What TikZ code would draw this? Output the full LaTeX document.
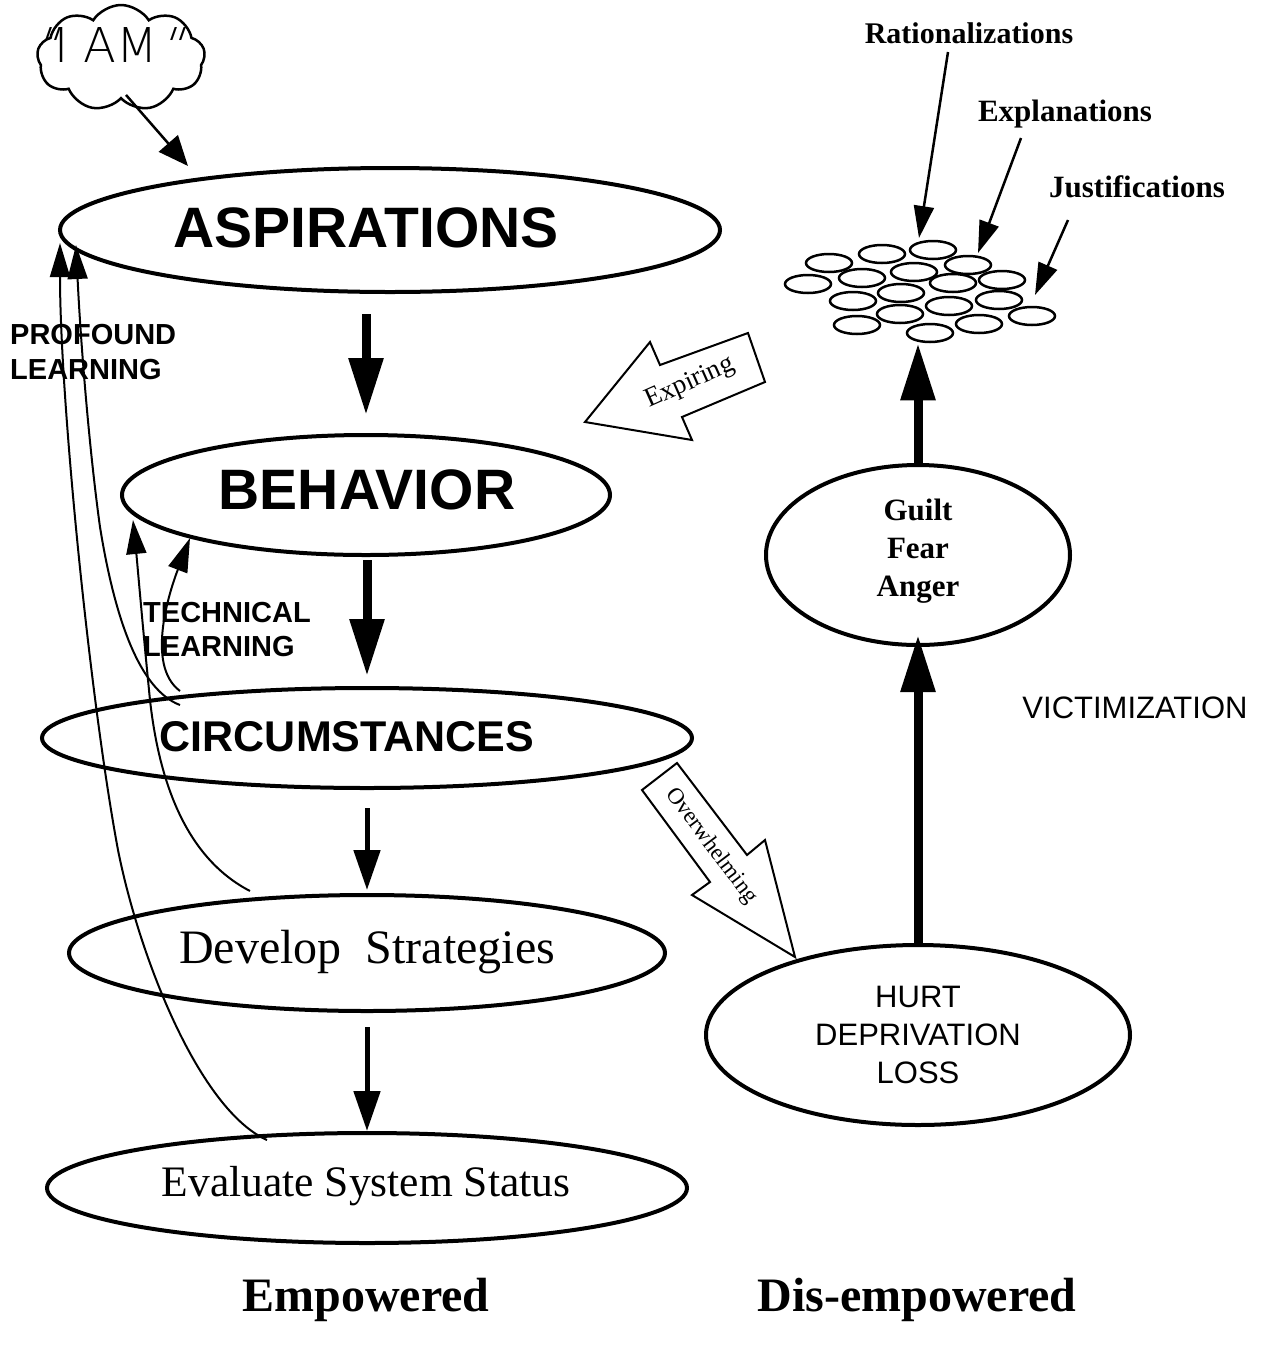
\documentclass[tikz,border=0pt]{standalone}
\usepackage{fontspec}
\setmainfont{Liberation Serif}
\setsansfont{Liberation Sans}
\newfontfamily\thinfont{DejaVu Sans ExtraLight}
\newfontfamily\thinslant[FakeSlant=0.35]{DejaVu Sans ExtraLight}
\usetikzlibrary{arrows.meta,shapes.geometric,shapes.symbols,calc}
\newcommand\fsz[2]{\fontsize{#1}{#2}\selectfont}

\begin{document}
\begin{tikzpicture}[x=1pt,y=-1pt,
  oval/.style={ellipse,draw,line width=4pt,inner sep=0pt},
  pill/.style={ellipse,draw,line width=2.5pt,minimum width=46pt,minimum height=18pt,inner sep=0pt},
  bigarrow/.style={line width=9pt,-{Triangle[length=57pt,width=33pt]}},
  midarrow/.style={line width=5pt,-{Triangle[length=40pt,width=26pt]}},
  looparrow/.style={line width=2pt,-{Triangle[length=34pt,width=20pt]}},
  thinarrow/.style={line width=2.5pt,-{Triangle[length=32pt,width=20pt]}},
  blockarrow/.style={draw,line width=2pt,fill=white,line join=miter},
  txt/.style={inner sep=0pt,align=center},
]
\useasboundingbox (0,0) rectangle (1266,1353);

% ---- empowered column: ellipses and their labels
\node[oval,minimum width=660pt,minimum height=124pt] (asp) at (390,230) {};
\node[txt,font=\sffamily\bfseries\fsz{57}{60}] (asptxt) at (366,228) {ASPIRATIONS};

\node[oval,minimum width=488pt,minimum height=120pt] (beh) at (366,495) {};
\node[txt,font=\sffamily\bfseries\fsz{57}{60}] (behtxt) at (367,490) {BEHAVIOR};

\node[oval,minimum width=650pt,minimum height=100pt] (circ) at (367,738) {};
\node[txt,font=\sffamily\bfseries\fsz{43}{46}] (circtxt) at (347,737) {CIRCUMSTANCES};

\node[oval,minimum width=596pt,minimum height=116pt] (dev) at (367,953) {};
\node[txt,font=\fsz{48}{50}] (devtxt) at (367,952) {Develop\ \ Strategies};

\node[oval,minimum width=640pt,minimum height=110pt] (eval) at (367,1188) {};
\node[txt,font=\fsz{43.5}{46}] (evaltxt) at (366,1186) {Evaluate System Status};

% ---- "I AM" cloud
\node[cloud,draw,line width=2.5pt,cloud puffs=9,cloud puff arc=115,aspect=1.5,
      minimum width=168pt,minimum height=106pt,inner sep=0pt] (cloud) at (121,58) {};
\node[txt,font=\thinfont\fsz{48}{50}] (iam) at (106,45) {{\thinslant"}I AM{\thinslant"}};
\draw[line width=2.5pt,-{Triangle[length=30pt,width=25pt]}]
  ($(cloud.south)+(5,-5)$) -- ($(asp.north)+(-202,0)$);

% ---- downward chain
\draw[bigarrow] ($(asp.south -| beh.north)+(0,20)$) -- ($(beh.north)+(0,-18)$);
\draw[bigarrow] ($(beh.south -| circ.north)+(0,3)$) -- ($(circ.north)+(0,-10)$);
\draw[midarrow] ($(circ.south)+(0,18)$) -- ($(dev.north)+(0,-3)$);
\draw[midarrow] ($(dev.south)+(0,14)$) -- (eval.north);

% ---- learning loops
\draw[looparrow] ($(eval.north)+(-100,9)$) .. controls (200,1110) and (140,960) .. (118,850)
  .. controls (90,700) and (60,400) .. ($(asp.west)+(2,13)$);
\draw[looparrow] ($(circ.north)+(-187,19)$) .. controls (140,690) and (115,620) .. (100,527)
  .. controls (88,440) and (80,330) .. ($(asp.west)+(18,15)$);
\draw[looparrow] ($(dev.north)+(-117,-2)$) .. controls (190,860) and (160,790) .. (150,700)
  .. controls (143,630) and (137,560) .. ($(beh.west)+(13,25)$);
\draw[looparrow] ($(circ.north)+(-187,5)$) .. controls (145,665) and (170,590) .. ($(beh.west)+(70,43)$);

\node[anchor=west,align=left,inner sep=0pt,font=\sffamily\bfseries\fsz{29}{35}] (prof) at (10,352) {PROFOUND\\LEARNING};
\node[anchor=west,align=left,inner sep=0pt,font=\sffamily\bfseries\fsz{29}{34}] (tech) at (143,630) {TECHNICAL\\LEARNING};

% ---- dis-empowered column
\node[oval,minimum width=304pt,minimum height=180pt] (guilt) at (918,555) {};
\node[txt,font=\bfseries\fsz{31}{38}] (guilttxt) at (918,551) {Guilt\\Fear\\Anger};

\node[oval,minimum width=424pt,minimum height=180pt] (hurt) at (918,1035) {};
\node[txt,font=\sffamily\fsz{31}{38}] (hurttxt) at (918,1035) {HURT\\DEPRIVATION\\LOSS};

\node[txt,font=\sffamily\fsz{31}{36}] (vict) at (1135,708) {VICTIMIZATION};

% cluster of small ovals
\foreach \i/\x/\y in {1/933/250,2/882/254,3/829/263,4/968/265,5/914/272,6/862/278,
  7/808/284,8/953/283,9/1002/280,10/901/293,11/853/301,12/949/306,13/999/300,
  14/900/314,15/857/325,16/979/324,17/1032/316,18/930/333}
  \node[pill] (c\i) at (\x,\y) {};

\draw[bigarrow] (hurt.north) -- ($(guilt.south)+(0,-12)$);
\draw[bigarrow] (guilt.north) -- (guilt.north |- c18.south);

\node[txt,font=\bfseries\fsz{30}{34}] (rat) at (969,33) {Rationalizations};
\node[txt,font=\bfseries\fsz{31}{34}] (expl) at (1065,114) {Explanations};
\node[txt,font=\bfseries\fsz{31}{34}] (just) at (1137,187) {Justifications};
\draw[thinarrow] ($(rat)+(-21,19)$) -- ($(c1)+(-14,-12)$);
\draw[thinarrow] ($(expl)+(-44,24)$) -- ($(c4)+(10,-12)$);
\draw[thinarrow] ($(just)+(-69,33)$) -- ($(c17)+(3,-21)$);

% ---- block arrows
\draw[blockarrow] (585,422) -- (650,342) -- (660,365) -- (748,333) -- (765,382)
  -- (682,417) -- (692,440) -- cycle;
\node[txt,rotate=24,font=\fsz{27}{30}] (expiring) at (690,383) {Expiring};

\draw[blockarrow] (642,790) -- (677,763) -- (747,855) -- (765,840) -- (795,957)
  -- (692,895) -- (710,882) -- cycle;
\node[txt,rotate=-53,font=\fsz{23}{26}] (overwhelm) at (711,846) {Overwhelming};

% ---- column titles
\node[txt,font=\bfseries\fsz{48}{50}] (empw) at (366,1300) {Empowered};
\node[txt,font=\bfseries\fsz{48}{50}] (disempw) at (917,1300) {Dis-empowered};
\end{tikzpicture}
\end{document}
